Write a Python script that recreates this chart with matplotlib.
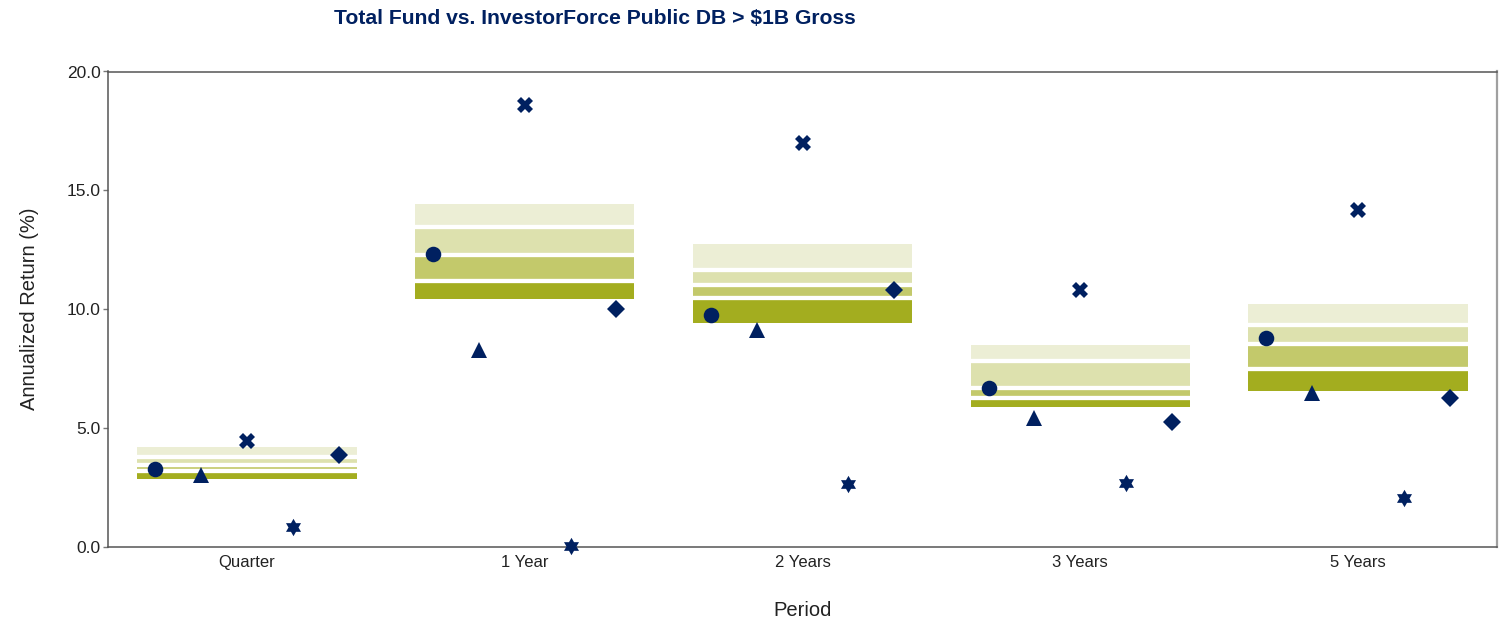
import numpy as np
import matplotlib
matplotlib.use("Agg")
import matplotlib.pyplot as plt
from matplotlib.path import Path
from matplotlib.ticker import FormatStrFormatter

# data
periods = ["Quarter", "1 Year", "2 Years", "3 Years", "5 Years"]

# universe percentiles (5th, 25th, median, 75th, 95th)
p5 = [2.87, 10.45, 9.44, 5.88, 6.57]
p25 = [3.20, 11.19, 10.47, 6.27, 7.50]
p50 = [3.47, 12.28, 11.03, 6.67, 8.53]
p75 = [3.79, 13.48, 11.64, 7.81, 9.34]
p95 = [4.22, 14.41, 12.73, 8.49, 10.24]

# plotted returns
total_fund = [3.28, 12.34, 9.75, 6.67, 8.80]
series_tri = [3.03, 8.30, 9.14, 5.44, 6.46]
series_x = [4.45, 18.61, 16.99, 10.80, 14.19]
series_star = [0.85, 0.04, 2.63, 2.69, 2.06]
series_diamond = [3.89, 10.03, 10.83, 5.27, 6.27]

NAVY = "#002060"
band_colors = ["#a3ad1f", "#c3c96b", "#dde1ae", "#eceed5"]

plt.rcParams["font.family"] = ["Liberation Sans", "DejaVu Sans"]

fig = plt.figure(figsize=(15.01, 6.2), dpi=100)
ax = fig.add_axes([108 / 1501, 73 / 620, 1389 / 1501, 475.5 / 620])

x = np.arange(len(periods))
width = 0.79

# floating percentile bars
lows = [p5, p25, p50, p75]
highs = [p25, p50, p75, p95]
for lo, hi, col in zip(lows, highs, band_colors):
    lo = np.array(lo)
    hi = np.array(hi)
    ax.bar(x, hi - lo, bottom=lo, width=width, color=col, linewidth=0, zorder=1)

# white separators between bands
for vals in (p25, p50, p75):
    ax.hlines(vals, x - width / 2, x + width / 2, colors="white", linewidth=3.1, zorder=2)

hexagram = Path.unit_regular_star(6, 0.577)

offsets = [-0.33, -0.165, 0.0, 0.165, 0.33]
series = [
    (total_fund, "o", 11.2),
    (series_tri, "^", 12),
    (series_x, "X", 12),
    (series_star, hexagram, 12.5),
    (series_diamond, "D", 9.5),
]
for off, (vals, mk, ms) in zip(offsets, series):
    ax.plot(x + off, vals, linestyle="none", marker=mk, markersize=ms,
            color=NAVY, markeredgewidth=0, zorder=3, clip_on=False)

ax.set_xlim(-0.5, len(periods) - 0.5)
ax.set_ylim(0, 20)
ax.set_yticks([0, 5, 10, 15, 20])
ax.yaxis.set_major_formatter(FormatStrFormatter("%.1f"))
ax.set_xticks(x)
ax.set_xticklabels(periods)

ax.tick_params(axis="y", direction="out", length=3.8, width=1, color="#777777",
               labelsize=12.5, pad=1.5, labelcolor="#222222")
ax.tick_params(axis="x", length=0, labelsize=12, pad=6, labelcolor="#222222")

for side in ("left", "bottom", "top"):
    ax.spines[side].set_color("#555555")
    ax.spines[side].set_linewidth(1.1)
ax.spines["right"].set_color("#a0a0a0")
ax.spines["right"].set_linewidth(1.6)

ax.set_ylabel("Annualized Return (%)", fontsize=14.5, color="#222222", labelpad=20)
ax.set_xlabel("Period", fontsize=14.5, color="#222222", labelpad=22)

fig.text(595 / 1501, 1 - 18 / 620, "Total Fund vs. InvestorForce Public DB > $1B Gross",
         ha="center", va="center", fontsize=15.2, fontweight="bold", color=NAVY)

fig.savefig("out.png", dpi=100)
